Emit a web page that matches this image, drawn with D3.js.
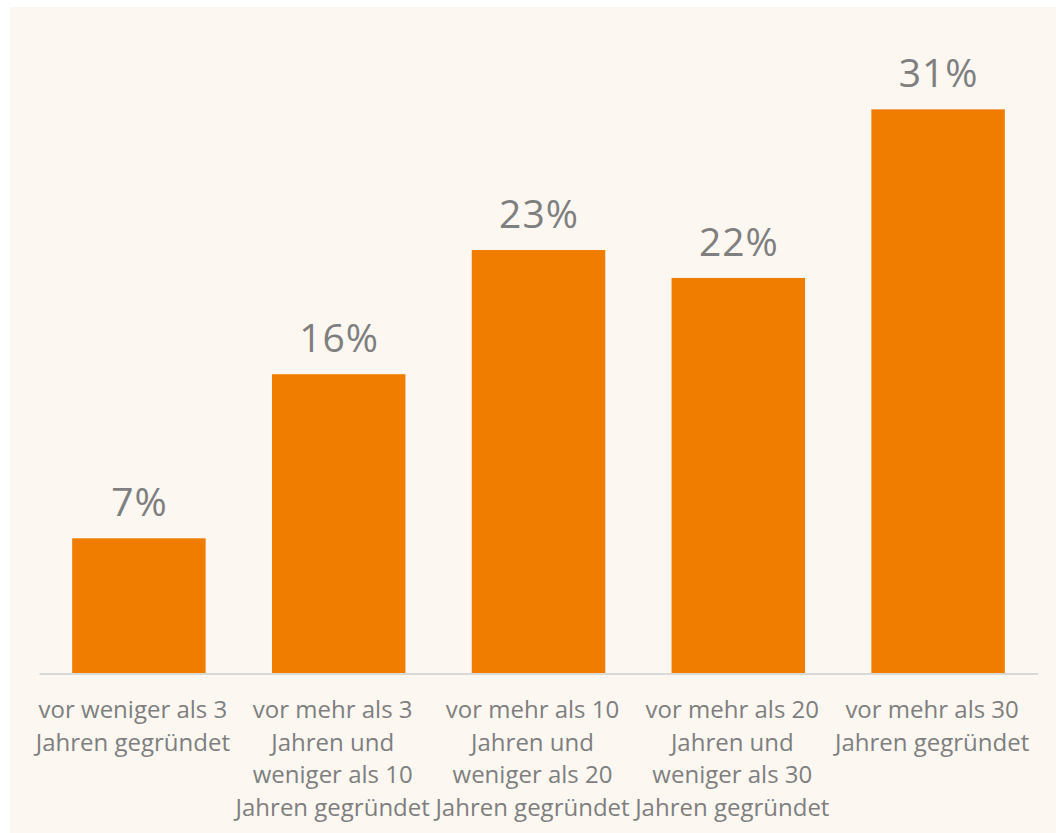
<!DOCTYPE html>
<html>
<head>
<meta charset="utf-8">
<script src="https://cdn.jsdelivr.net/npm/d3@7"></script>
<style>
  html, body { margin: 0; padding: 0; background: #ffffff; }
  svg { display: block; }
</style>
</head>
<body>
<svg id="chart" width="1056" height="833"></svg>
<script>
// Data
const categories = [
  "vor weniger als 3 Jahren gegründet",
  "vor mehr als 3 Jahren und weniger als 10 Jahren gegründet",
  "vor mehr als 10 Jahren und weniger als 20 Jahren gegründet",
  "vor mehr als 20 Jahren und weniger als 30 Jahren gegründet",
  "vor mehr als 30 Jahren gegründet"
];
const categoryLines = [
  ["vor weniger als 3", "Jahren gegründet"],
  ["vor mehr als 3", "Jahren und", "weniger als 10", "Jahren gegründet"],
  ["vor mehr als 10", "Jahren und", "weniger als 20", "Jahren gegründet"],
  ["vor mehr als 20", "Jahren und", "weniger als 30", "Jahren gegründet"],
  ["vor mehr als 30", "Jahren gegründet"]
];
const values = [0.0743, 0.1648, 0.2333, 0.2179, 0.3109];

const svg = d3.select("#chart");
const W = 1056, H = 833;
const font = "'Open Sans', 'Noto Sans', sans-serif";
const textColor = "#7f7f7f";

// background panel
svg.append("rect")
  .attr("x", 10).attr("y", 7)
  .attr("width", W - 10).attr("height", H - 7)
  .attr("fill", "#fcf7f1");

const baseY = 673;
const x = d3.scaleBand()
  .domain(categories)
  .range([39, 1038])
  .paddingInner(0.332)
  .paddingOuter(0.166);

const y = d3.scaleLinear()
  .domain([0, 0.35])
  .range([baseY, baseY - 0.35 * 1813]);

// bars
svg.append("g").selectAll("rect")
  .data(values)
  .join("rect")
  .attr("x", (d, i) => x(categories[i]))
  .attr("y", d => y(d))
  .attr("width", x.bandwidth())
  .attr("height", d => y(0) - y(d))
  .attr("fill", "#f07d00");

// value labels
const fmt = d3.format(".0%");
svg.append("g").selectAll("text")
  .data(values)
  .join("text")
  .attr("x", (d, i) => x(categories[i]) + x.bandwidth() / 2 + 0.5)
  .attr("y", d => y(d) - 22)
  .attr("text-anchor", "middle")
  .attr("font-family", font)
  .attr("font-size", 39)
  .attr("letter-spacing", 1)
  .attr("fill", textColor)
  .text(d => fmt(d));

// x axis
const axis = d3.axisBottom(x).tickSize(0).tickSizeOuter(0);
const gx = svg.append("g")
  .attr("transform", `translate(0,${baseY + 0.5})`)
  .call(axis);
gx.select(".domain")
  .attr("stroke", "#d9d9d9")
  .attr("stroke-width", 2);
gx.selectAll(".tick text").each(function(d) {
  const i = categories.indexOf(d);
  const t = d3.select(this);
  t.text(null)
    .attr("y", 0).attr("dy", null)
    .attr("font-family", font)
    .attr("font-size", 24)
    .attr("fill", textColor)
    .attr("text-anchor", "middle");
  categoryLines[i].forEach((line, k) => {
    t.append("tspan")
      .attr("x", -6)
      .attr("y", 44.5 + k * 32.7)
      .text(line);
  });
});
</script>
</body>
</html>
